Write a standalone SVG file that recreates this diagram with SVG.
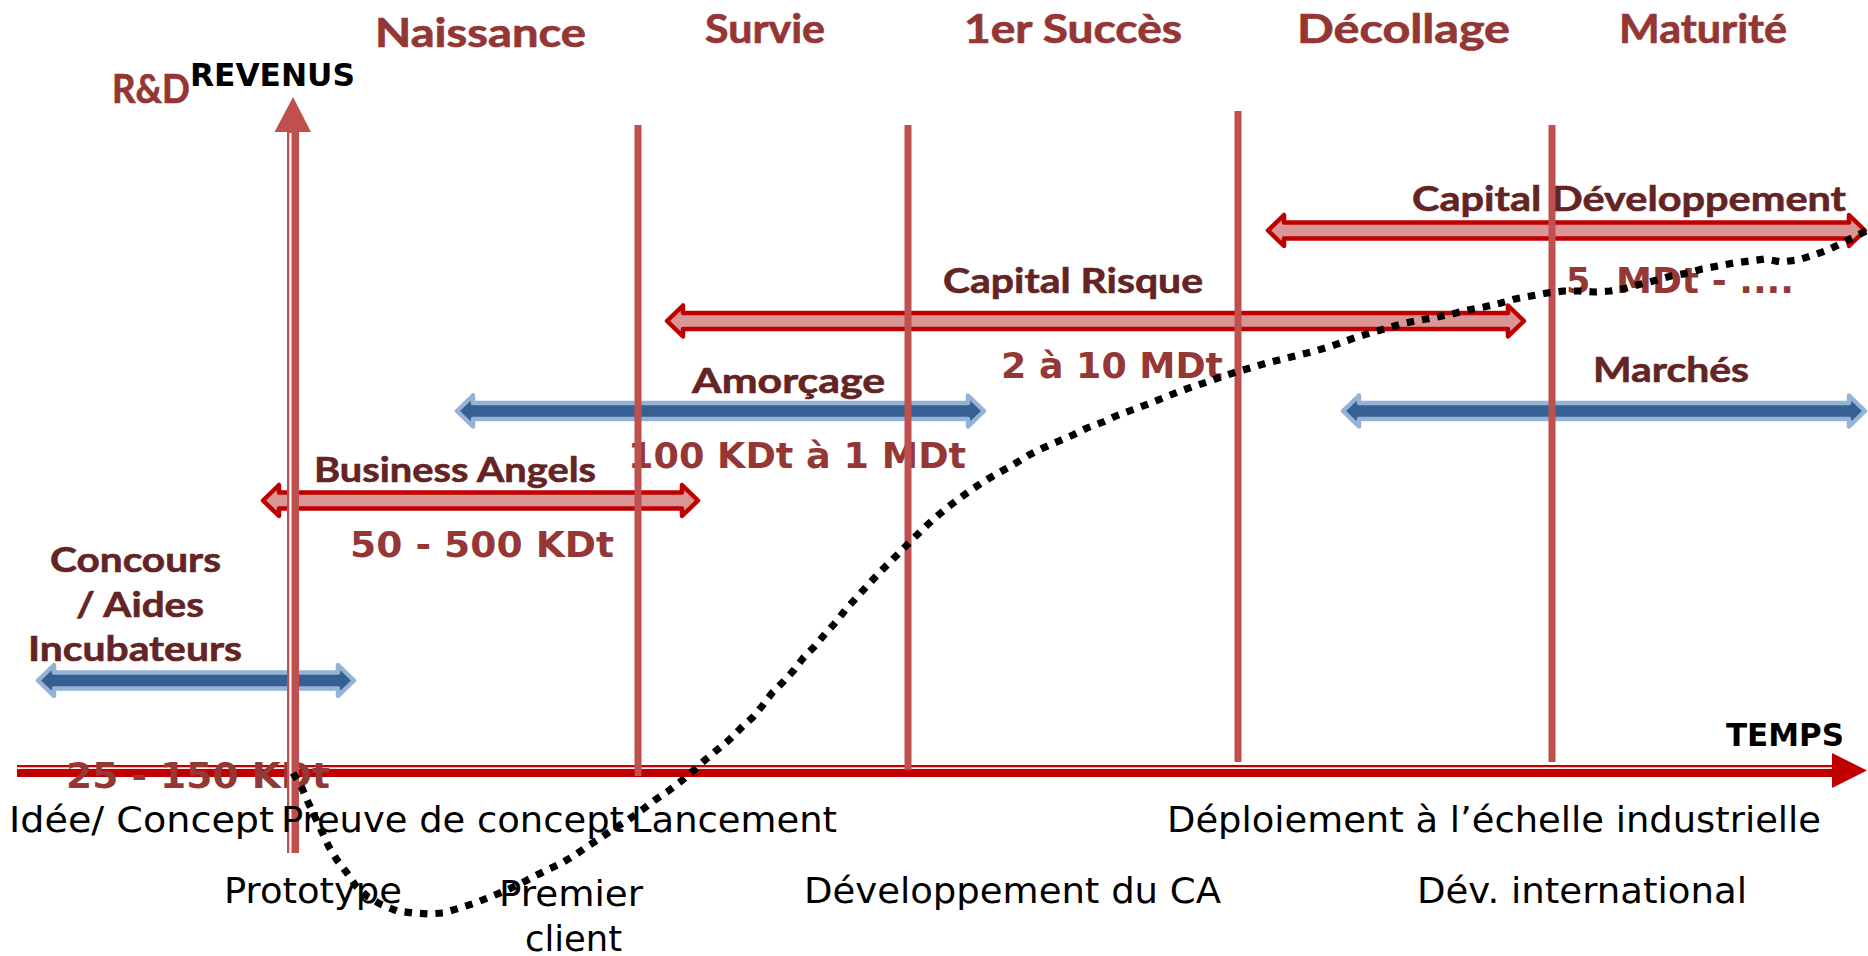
<svg xmlns="http://www.w3.org/2000/svg" width="1868" height="956" viewBox="0 0 1868 956">
<style>
.title{font-family:Lato,"Open Sans","Liberation Sans",sans-serif;font-weight:bold;font-size:41px;fill:#943634;stroke:#943634;stroke-width:0.7}
.lbl{font-family:Lato,"Open Sans","Liberation Sans",sans-serif;font-weight:bold;font-size:35px;fill:#632423;stroke:#632423;stroke-width:0.6}
.amt{font-family:"DejaVu Sans",Verdana,sans-serif;font-weight:bold;font-size:35px;fill:#953735}
.bot{font-family:"DejaVu Sans",Verdana,sans-serif;font-size:35px;fill:#000}
.axl{font-family:"DejaVu Sans",Verdana,sans-serif;font-weight:bold;font-size:31.5px;fill:#000}
.vline{stroke:#C0504D;stroke-width:7;fill:none}
.rarrow{fill:#D99694;stroke:#C00000;stroke-width:4.5;stroke-linejoin:round}
.barrow{fill:#376092;stroke:#95B3D7;stroke-width:4.5;stroke-linejoin:round}
.curve{fill:none;stroke:#000;stroke-width:7.2;stroke-dasharray:7.5 8;stroke-linejoin:round}
</style>
<rect width="1868" height="956" fill="#fff"/>

<g id="time-axis">
<rect x="17" y="765" width="1817" height="12" fill="#C00000"/>
<rect x="17" y="767.3" width="1815" height="1.6" fill="#fff"/>
<polygon points="1832,753 1867,770.5 1832,788" fill="#C00000"/>
<text class="axl" x="1726" y="746" textLength="118" lengthAdjust="spacingAndGlyphs">TEMPS</text>
</g>

<g id="concours">
<polygon class="barrow" points="38,680.5 54,665 54,672.5 338,672.5 338,665 354,680.5 338,696 338,688.5 54,688.5 54,696"/>
<text class="lbl" x="50" y="572" textLength="171" lengthAdjust="spacingAndGlyphs">Concours</text>
<text class="lbl" x="76" y="617" textLength="128" lengthAdjust="spacingAndGlyphs">/ Aides</text>
<text class="lbl" x="28" y="661" textLength="214" lengthAdjust="spacingAndGlyphs">Incubateurs</text>
<text class="amt" x="66" y="788" textLength="264" lengthAdjust="spacingAndGlyphs">25 - 150 KDt</text>
</g>

<g id="business-angels">
<polygon class="rarrow" points="263,500.5 279,485 279,492.5 682,492.5 682,485 698,500.5 682,516 682,508.5 279,508.5 279,516"/>
<text class="lbl" x="314" y="482" textLength="282" lengthAdjust="spacingAndGlyphs">Business Angels</text>
<text class="amt" x="350" y="557" textLength="264" lengthAdjust="spacingAndGlyphs">50 - 500 KDt</text>
</g>

<g id="amorcage">
<polygon class="barrow" points="457,411 473,395.5 473,403 968,403 968,395.5 984,411 968,426.5 968,419 473,419 473,426.5"/>
<text class="lbl" x="692" y="393" textLength="193" lengthAdjust="spacingAndGlyphs">Amorçage</text>
<text class="amt" x="628" y="468" textLength="338" lengthAdjust="spacingAndGlyphs">100 KDt à 1 MDt</text>
</g>

<g id="capital-risque">
<polygon class="rarrow" points="667,321 683,305.5 683,313 1508,313 1508,305.5 1524,321 1508,336.5 1508,329 683,329 683,336.5"/>
<text class="lbl" x="943" y="293" textLength="260" lengthAdjust="spacingAndGlyphs">Capital Risque</text>
<text class="amt" x="1001" y="378" textLength="222" lengthAdjust="spacingAndGlyphs">2 à 10 MDt</text>
</g>

<g id="capital-developpement">
<polygon class="rarrow" points="1268,230.5 1284,215 1284,222.5 1849,222.5 1849,215 1865,230.5 1849,246 1849,238.5 1284,238.5 1284,246"/>
<text class="lbl" x="1412" y="211" textLength="434" lengthAdjust="spacingAndGlyphs">Capital Développement</text>
<text class="amt" x="1566" y="293">5 <tspan x="1616" textLength="178" lengthAdjust="spacingAndGlyphs">MDt - ....</tspan></text>
</g>

<g id="marches">
<polygon class="barrow" points="1343,411 1359,395.5 1359,403 1849,403 1849,395.5 1865,411 1849,426.5 1849,419 1359,419 1359,426.5"/>
<text class="lbl" x="1593" y="382" textLength="156" lengthAdjust="spacingAndGlyphs">Marchés</text>
</g>

<g id="stages">
<text class="title" x="112" y="103" textLength="78" lengthAdjust="spacingAndGlyphs">R&amp;D</text>
<text class="title" x="375" y="47" textLength="211" lengthAdjust="spacingAndGlyphs">Naissance</text>
<text class="title" x="705" y="43" textLength="120" lengthAdjust="spacingAndGlyphs">Survie</text>
<text class="title" x="964" y="43" textLength="218" lengthAdjust="spacingAndGlyphs">1er Succès</text>
<text class="title" x="1297" y="43" textLength="213" lengthAdjust="spacingAndGlyphs">Décollage</text>
<text class="title" x="1619" y="43" textLength="168" lengthAdjust="spacingAndGlyphs">Maturité</text>
</g>

<g id="dividers">
<line class="vline" x1="638" y1="125" x2="638" y2="776"/>
<line class="vline" x1="908" y1="125" x2="908" y2="770"/>
<line class="vline" x1="1238" y1="111" x2="1238" y2="762"/>
<line class="vline" x1="1552" y1="125" x2="1552" y2="762"/>
</g>

<g id="revenue-axis">
<rect x="287" y="130" width="12" height="723" fill="#C0504D"/>
<rect x="289.3" y="133" width="2.2" height="720" fill="#fff"/>
<polygon points="274.5,132 293,97 311,132" fill="#C0504D"/>
<text class="axl" x="190" y="86" textLength="165" lengthAdjust="spacingAndGlyphs">REVENUS</text>
</g>

<g id="milestones">
<text class="bot" x="9" y="832" textLength="265" lengthAdjust="spacingAndGlyphs">Idée/ Concept</text>
<text class="bot" x="281" y="832" textLength="343" lengthAdjust="spacingAndGlyphs">Preuve de concept</text>
<text class="bot" x="631" y="832" textLength="206" lengthAdjust="spacingAndGlyphs">Lancement</text>
<text class="bot" x="1167" y="832" textLength="654" lengthAdjust="spacingAndGlyphs">Déploiement à l’échelle industrielle</text>
<text class="bot" x="224" y="903" textLength="178" lengthAdjust="spacingAndGlyphs">Prototype</text>
<text class="bot" x="499" y="906" textLength="144" lengthAdjust="spacingAndGlyphs">Premier</text>
<text class="bot" x="525" y="951" textLength="97" lengthAdjust="spacingAndGlyphs">client</text>
<text class="bot" x="804" y="903" textLength="417" lengthAdjust="spacingAndGlyphs">Développement du CA</text>
<text class="bot" x="1417" y="903" textLength="330" lengthAdjust="spacingAndGlyphs">Dév. international</text>
</g>

<g id="connectors">
<polyline class="curve" points="293,773 302,788 308,802 315,817 322,832 329,847 337,860 347,873 356,886 368,897 380,904 397,911 413,913 428,914 443,913 460,908 475,903 490,897 507,890 520,884 533,877 547,870 562,863 575,855 588,846 602,837 615,828 628,820 642,810 655,800 667,792 680,782 693,771 705,760 717,750 729,740 741,728 753,717 763,705 772,693 783,682 794,670 804,657 814,647 825,634 836,622 846,609 857,597 867,586 879,573 890,562 901,551 913,539 924,528 936,517 948,507 960,498 974,488 988,479 1002,471 1016,463 1029,455 1043,448 1059,441 1073,435 1087,428 1103,422 1116,416 1132,410 1148,404 1163,398 1178,392 1192,387 1207,382 1221,377 1236,372 1250,368 1267,363 1283,359 1299,355 1315,351 1332,346 1346,341 1360,336 1374,332 1391,327 1405,323 1421,320 1437,317 1452,314 1468,310 1484,307 1501,303 1515,299 1531,296 1547,293 1564,291 1578,291 1594,292 1610,291 1627,288 1641,284 1657,280 1671,276 1688,273 1702,269 1718,266 1734,263 1750,261 1765,259 1781,262 1798,260 1814,255 1828,250 1842,243 1854,237 1866,231"/>
</g>
</svg>
